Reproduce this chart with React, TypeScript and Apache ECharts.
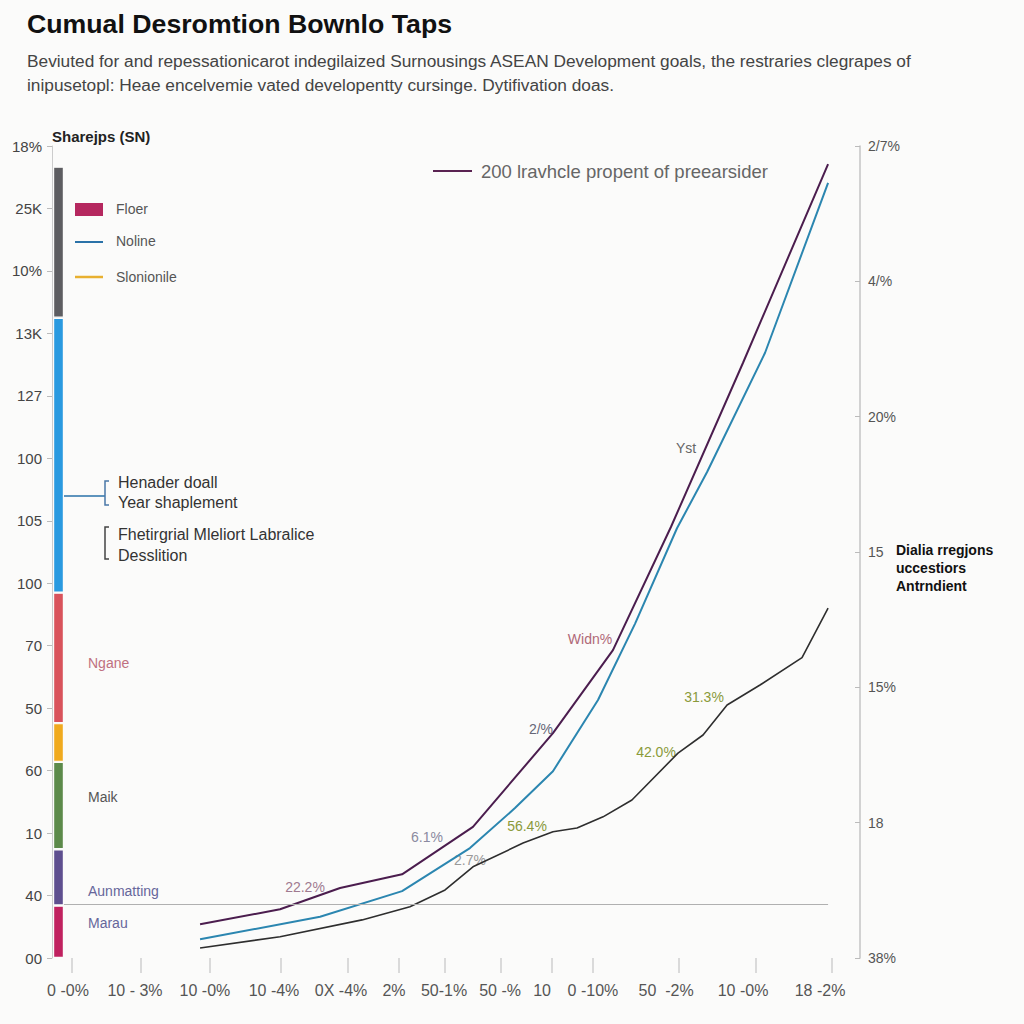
import React, { useEffect, useRef } from "react";
import * as echarts from "echarts";

// ---------- data ----------
const titleText = "Cumual Desromtion Bownlo Taps";
const subtitleLines = [
  "Beviuted for and repessationicarot indegilaized Surnousings ASEAN Development goals, the restraries clegrapes of",
  "inipusetopl: Heae encelvemie vated developentty cursinge. Dytifivation doas.",
];

// left axis labels, bottom -> top (value index 0..13)
const leftLabels = ["00", "40", "10", "60", "50", "70", "100", "105", "100", "127", "13K", "10%", "25K", "18%"];
// right axis labels, bottom -> top (value index 0..6)
const rightLabels = ["38%", "18", "15%", "15", "20%", "4/%", "2/7%"];

// bottom axis
const xTickValues = [0.99, 4.41, 7.82, 11.34, 14.65, 17.18, 19.46, 22.23, 24.75, 26.78, 31.04, 34.85, 38.61];
const xLabelValues = [0.79, 4.11, 7.57, 10.99, 14.31, 16.93, 19.41, 22.18, 24.26, 26.78, 30.4, 34.21, 38.02];
const xLabels = ["0 -0%", "10 - 3%", "10 -0%", "10 -4%", "0X -4%", "2%", "50-1%", "50 -%", "10", "0 -10%", "50  -2%", "10 -0%", "18 -2%"];

// stacked bar segments (bottom -> top)
const barNames = ["Marau", "Aunmatting", "Maik", "Orange", "Ngane", "Blue", "Gray"];
const barValues = [0.84, 0.9, 1.4, 0.62, 2.09, 4.4, 2.42];
const barColors = ["#c0215f", "#5e4f8f", "#5c8a4a", "#f0aa1e", "#d9535b", "#2a9ae0", "#5d5d61"];

// lines
const purpleX = [7.33, 11.29, 14.26, 17.33, 20.84, 24.8, 27.77, 30.64, 34.21, 38.42];
const purpleY = [0.54, 0.78, 1.12, 1.34, 2.1, 3.6, 4.93, 6.9, 9.53, 12.71];
const blueX = [7.33, 13.27, 17.33, 20.69, 22.92, 24.8, 27.03, 28.86, 30.94, 32.43, 35.3, 38.42];
const blueY = [0.3, 0.66, 1.07, 1.76, 2.4, 2.99, 4.13, 5.35, 6.88, 7.78, 9.69, 12.41];
const grayX = [7.33, 11.29, 15.35, 17.72, 19.46, 20.84, 23.32, 24.8, 25.99, 27.28, 28.71, 30.99, 32.23, 33.42, 35.05, 37.13, 38.42];
const grayY = [0.16, 0.34, 0.61, 0.82, 1.09, 1.46, 1.84, 2.02, 2.08, 2.26, 2.53, 3.28, 3.57, 4.05, 4.37, 4.81, 5.6];
const baselineY = 0.865;
const baselineX = [0.59, 38.42];

const FONT = '"Liberation Sans", Arial, sans-serif';

function pairs(xs: number[], ys: number[]) {
  return xs.map((x, i) => [x, ys[i]]);
}

function txt(text: string, x: number, y: number, size: number, fill: string, opts: any = {}) {
  return {
    type: "text",
    x,
    y,
    silent: true,
    style: {
      text,
      fill,
      fontSize: size,
      fontFamily: FONT,
      fontWeight: opts.bold ? "bold" : "normal",
      textAlign: opts.align || "left",
      textVerticalAlign: "middle",
    },
  };
}

export default function App() {
  const ref = useRef<HTMLDivElement>(null);

  useEffect(() => {
    document.body.style.margin = "0";
    const chart = echarts.init(ref.current!, null, { renderer: "svg" });

    const option: any = {
      animation: false,
      backgroundColor: "#fbfbfa",
      textStyle: { fontFamily: FONT },
      title: [
        {
          text: titleText,
          left: 22,
          top: 5,
          textStyle: { fontSize: 26.7, fontWeight: "bold", color: "#111", fontFamily: FONT },
        },
        {
          text: subtitleLines.join("\n"),
          left: 22,
          top: 44,
          textStyle: { fontSize: 17.3, fontWeight: "normal", color: "#444", lineHeight: 24, fontFamily: FONT },
        },
      ],
      grid: [
        { left: 52, right: 164, top: 146, bottom: 66 },
        { left: 53, width: 11, top: 146, bottom: 66 },
      ],
      xAxis: [
        {
          type: "value",
          gridIndex: 0,
          min: 0,
          max: 40,
          axisLine: { show: false },
          splitLine: { show: false },
          axisTick: { show: true, customValues: xTickValues, length: 15, lineStyle: { color: "#cfcfcf", width: 1.5 } },
          axisLabel: {
            customValues: xLabelValues,
            margin: 24,
            fontSize: 16,
            color: "#555",
            fontFamily: FONT,
            formatter: (v: number) => {
              let best = 0;
              let bd = Infinity;
              xLabelValues.forEach((lv, i) => {
                const d = Math.abs(lv - v);
                if (d < bd) { bd = d; best = i; }
              });
              return xLabels[best];
            },
          },
        },
        { type: "category", gridIndex: 1, data: ["bar"], show: false },
      ],
      yAxis: [
        {
          type: "value",
          gridIndex: 0,
          position: "left",
          min: 0,
          max: 13,
          interval: 1,
          name: "Sharejps (SN)",
          nameLocation: "end",
          nameGap: 2,
          nameTextStyle: { fontSize: 15, fontWeight: "bold", color: "#222", align: "left", fontFamily: FONT },
          axisLine: { show: true, lineStyle: { color: "#cccccc" } },
          axisTick: { show: true, length: 5, lineStyle: { color: "#bbbbbb" } },
          splitLine: { show: false },
          axisLabel: {
            margin: 10,
            fontSize: 15,
            color: "#444",
            fontFamily: FONT,
            formatter: (v: number) => leftLabels[Math.round(v)] ?? "",
          },
        },
        {
          type: "value",
          gridIndex: 0,
          position: "right",
          min: 0,
          max: 6,
          interval: 1,
          axisLine: { show: true, lineStyle: { color: "#c4c4c4", width: 1.5 } },
          axisTick: { show: true, inside: true, length: 5, lineStyle: { color: "#bbbbbb" } },
          splitLine: { show: false },
          axisLabel: {
            margin: 8,
            fontSize: 14,
            color: "#555",
            fontFamily: FONT,
            formatter: (v: number) => rightLabels[Math.round(v)] ?? "",
          },
        },
        { type: "value", gridIndex: 1, min: 0, max: 13, show: false },
      ],
      series: [
        ...barValues.map((v, i) => ({
          type: "bar",
          name: barNames[i],
          xAxisIndex: 1,
          yAxisIndex: 2,
          stack: "s",
          barWidth: "100%",
          data: [v],
          itemStyle: { color: barColors[i], borderColor: "#fbfbfa", borderWidth: 1.2 },
          silent: true,
        })),
        {
          type: "line",
          name: "Gray",
          xAxisIndex: 0,
          yAxisIndex: 0,
          data: pairs(grayX, grayY),
          symbol: "none",
          lineStyle: { color: "#2e2e2e", width: 1.6 },
          markLine: {
            silent: true,
            symbol: "none",
            label: { show: false },
            lineStyle: { color: "#b0b0b0", width: 1, type: "solid" },
            data: [[{ coord: [baselineX[0], baselineY] }, { coord: [baselineX[1], baselineY] }]],
          },
        },
        {
          type: "line",
          name: "Noline",
          xAxisIndex: 0,
          yAxisIndex: 0,
          data: pairs(blueX, blueY),
          symbol: "none",
          lineStyle: { color: "#2b86b0", width: 2 },
        },
        {
          type: "line",
          name: "200 lravhcle propent of preearsider",
          xAxisIndex: 0,
          yAxisIndex: 0,
          data: pairs(purpleX, purpleY),
          symbol: "none",
          lineStyle: { color: "#4b1d4e", width: 2 },
        },
      ],
      graphic: [
        // top legend
        { type: "line", silent: true, shape: { x1: 433, y1: 171, x2: 472, y2: 171 }, style: { stroke: "#5a2352", lineWidth: 2 } },
        txt("200 lravhcle propent of preearsider", 481, 171, 18.5, "#666"),
        // inner legend
        { type: "rect", silent: true, shape: { x: 75, y: 203, width: 28, height: 13 }, style: { fill: "#b5285f" } },
        txt("Floer", 116, 209, 14, "#555"),
        { type: "line", silent: true, shape: { x1: 75, y1: 242, x2: 103, y2: 242 }, style: { stroke: "#2a72a8", lineWidth: 2 } },
        txt("Noline", 116, 241, 14, "#555"),
        { type: "line", silent: true, shape: { x1: 75, y1: 277, x2: 103, y2: 277 }, style: { stroke: "#e8b030", lineWidth: 2.5 } },
        txt("Slonionile", 116, 277, 14, "#555"),
        // annotations
        { type: "line", silent: true, shape: { x1: 64, y1: 496, x2: 105, y2: 496 }, style: { stroke: "#2a72a8", lineWidth: 1.5 } },
        { type: "polyline", silent: true, shape: { points: [[109, 481], [105, 481], [105, 505], [109, 505]] }, style: { stroke: "#4a78a8", lineWidth: 1.5, fill: null } },
        txt("Henader doall", 118, 482, 16, "#333"),
        txt("Year shaplement", 118, 502, 16, "#333"),
        { type: "polyline", silent: true, shape: { points: [[109, 527], [105, 527], [105, 559], [109, 559]] }, style: { stroke: "#444", lineWidth: 1.5, fill: null } },
        txt("Fhetirgrial Mleliort Labralice", 118, 534, 16, "#333"),
        txt("Desslition", 118, 555, 16, "#333"),
        txt("Ngane", 88, 663, 14, "#c07080"),
        txt("Maik", 88, 797, 14, "#555"),
        txt("Aunmatting", 88, 891, 14, "#66669a"),
        txt("Marau", 88, 923, 14, "#66669a"),
        txt("Dialia rregjons", 896, 550, 14, "#111", { bold: true }),
        txt("uccestiors", 896, 568, 14, "#111", { bold: true }),
        txt("Antrndient", 896, 586, 14, "#111", { bold: true }),
        // line labels
        txt("Yst", 686, 448, 14, "#666", { align: "center" }),
        txt("Widn%", 590, 639, 14, "#b06878", { align: "center" }),
        txt("2/%", 541, 729, 14, "#667", { align: "center" }),
        txt("6.1%", 427, 837, 14, "#8a8aa0", { align: "center" }),
        txt("56.4%", 527, 826, 14, "#8a9a3a", { align: "center" }),
        txt("2.7%", 470, 860, 14, "#999", { align: "center" }),
        txt("22.2%", 305, 887, 14, "#a07a90", { align: "center" }),
        txt("42.0%", 656, 752, 14, "#8a9a3a", { align: "center" }),
        txt("31.3%", 704, 697, 14, "#8a9a3a", { align: "center" }),
      ],
    };

    chart.setOption(option);
    return () => chart.dispose();
  }, []);

  return <div ref={ref} style={{ position: "fixed", left: 0, top: 0, width: 1024, height: 1024 }} />;
}
